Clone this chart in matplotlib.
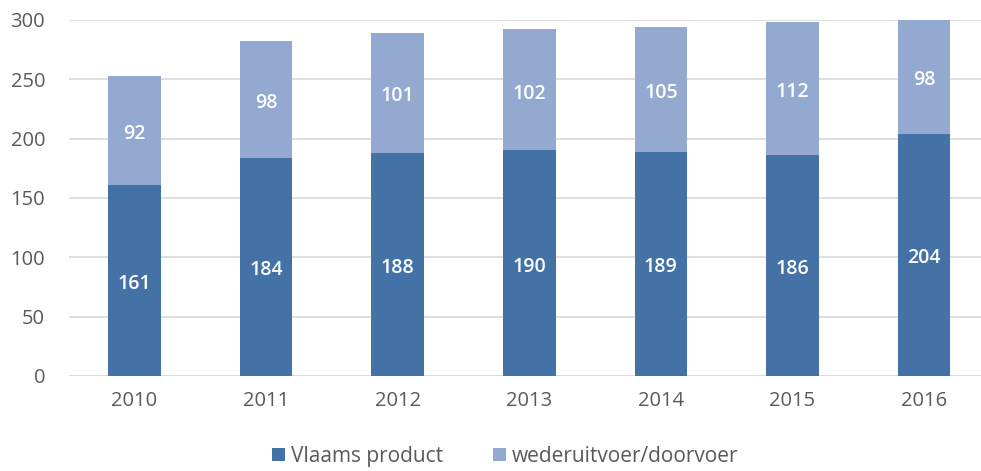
import matplotlib.pyplot as plt
import numpy as np

years = ['2010', '2011', '2012', '2013', '2014', '2015', '2016']
vlaams = [161, 184, 188, 190, 189, 186, 204]
wederuitvoer = [92, 98, 101, 102, 105, 112, 98]

dark = '#4472a7'
light = '#94a9d0'
grey = '#595959'

plt.rcParams['font.family'] = ['Open Sans', 'DejaVu Sans']

fig = plt.figure(figsize=(9.81, 4.71), dpi=100)
ax = fig.add_axes([0.070, 0.2017, 0.939, 0.756])

x = np.arange(len(years))
w = 0.40
ax.bar(x, vlaams, w, color=dark, label='Vlaams product', zorder=3)
ax.bar(x, wederuitvoer, w, bottom=vlaams, color=light,
       label='wederuitvoer/doorvoer', zorder=3)

ymax = 300
shift = -3  # small downward nudge like the original labels
for i in range(len(years)):
    ax.text(x[i], vlaams[i] / 2 + shift, str(vlaams[i]), ha='center', va='center',
            color='white', fontsize=14, fontweight='semibold', zorder=4)
    top = min(vlaams[i] + wederuitvoer[i], ymax)
    ax.text(x[i], (vlaams[i] + top) / 2 + shift, str(wederuitvoer[i]), ha='center',
            va='center', color='white', fontsize=14, fontweight='semibold', zorder=4)

ax.set_xlim(-0.5, len(years) - 0.5)
ax.set_ylim(0, ymax)
ax.set_yticks(range(0, 301, 50))
ax.set_xticks(x)
ax.set_xticklabels(years)
ax.yaxis.grid(True, color='#d9d9d9', linewidth=1.2, zorder=0)
ax.tick_params(axis='both', length=0, labelsize=14.5, labelcolor=grey)
ax.tick_params(axis='x', pad=11)
ax.tick_params(axis='y', pad=17)
for s in ax.spines.values():
    s.set_visible(False)
ax.axhline(0, color='#d9d9d9', linewidth=1.2, zorder=2)

fig.legend(loc='lower center', bbox_to_anchor=(0.515, -0.017), ncol=2, frameon=False,
           fontsize=15, labelcolor=grey, handlelength=0.6, handleheight=0.6,
           handletextpad=0.3, columnspacing=2.4, borderpad=0.1)

fig.savefig('out.png', dpi=100)
